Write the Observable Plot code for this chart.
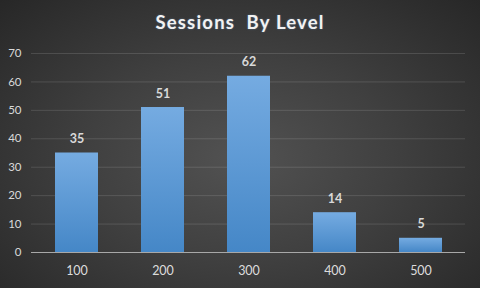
<!DOCTYPE html>
<html>
<head>
<meta charset="utf-8">
<script src="https://cdn.jsdelivr.net/npm/d3@7"></script>
<script src="https://cdn.jsdelivr.net/npm/@observablehq/plot@0.6"></script>
<style>
  html, body { margin: 0; padding: 0; }
  #wrap {
    position: relative; width: 480px; height: 288px; overflow: hidden;
    background: radial-gradient(ellipse at 50% 55%, #525252 0%, #404040 45%, #272727 100%);
    font-family: Lato, "Open Sans", sans-serif;
  }
  #title {
    position: absolute; left: 0; top: 11px; width: 480px; text-align: center;
    color: #f2f2f2; font-weight: bold; font-size: 18.5px; letter-spacing: 1.2px;
    white-space: pre; text-shadow: 0 0 2px rgba(120,170,230,0.5);
  }
  svg { position: absolute; left: 0; top: 0; background: transparent !important; }
</style>
</head>
<body>
<div id="wrap"><div id="title">Sessions  By Level</div></div>
<script>
const levels = ["100", "200", "300", "400", "500"];
const sessions = [35, 51, 62, 14, 5];
const yTicks = [0, 10, 20, 30, 40, 50, 60, 70];

const data = levels.map((l, i) => ({level: l, value: sessions[i]}));

const plot = Plot.plot({
  width: 480,
  height: 288,
  marginTop: 53,
  marginBottom: 36,
  marginLeft: 31,
  marginRight: 15,
  style: {background: "transparent", color: "#d9d9d9", fontFamily: "Lato, 'Open Sans', sans-serif", fontSize: "11px"},
  x: {domain: levels, paddingInner: 0.5, paddingOuter: 0.25, label: null},
  y: {domain: [0, 70], ticks: yTicks, label: null},
  marks: [
    Plot.gridY(yTicks.filter(d => d > 0), {stroke: "#ffffff", strokeOpacity: 0.13, strokeWidth: 1}),
    Plot.axisY(yTicks, {tickSize: 0, tickPadding: 10, fontSize: 11.5, fill: "#d9d9d9", label: null}),
    Plot.axisX({tickSize: 0, tickPadding: 14, fontSize: 12.5, fill: "#dcdcdc", label: null}),
    Plot.barY(data, {x: "level", y: "value", fill: "url(#barGrad)", style: "filter: drop-shadow(1.5px 1.5px 1.5px rgba(0,0,0,0.45))"}),
    Plot.ruleY([0], {stroke: "#a8a8a8", strokeWidth: 1}),
    Plot.text(data, {x: "level", y: "value", text: d => String(d.value), dy: -14, fill: "#d9d9d9", fontWeight: "bold", fontSize: 12.5})
  ]
});

const ns = "http://www.w3.org/2000/svg";
const defs = document.createElementNS(ns, "defs");
defs.innerHTML = `<linearGradient id="barGrad" x1="0" y1="0" x2="0" y2="1">
  <stop offset="0%" stop-color="#75abe1"/>
  <stop offset="100%" stop-color="#4587c7"/>
</linearGradient>`;
plot.insertBefore(defs, plot.firstChild);
document.getElementById("wrap").appendChild(plot);
</script>
</body>
</html>
